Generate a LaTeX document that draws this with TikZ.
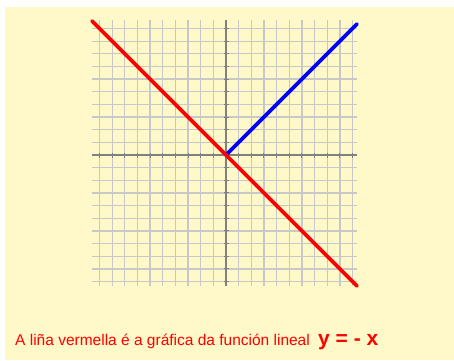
\documentclass[tikz,border=0pt]{standalone}
\usepackage{fontspec}
\setmainfont{Liberation Sans}
\definecolor{paper}{HTML}{FFF8C8}
\definecolor{gridgray}{HTML}{C8C8C8}
\definecolor{axisgray}{HTML}{808080}
\definecolor{plotred}{HTML}{FF0000}
\definecolor{plotblue}{HTML}{0000FF}
\begin{document}
\begin{tikzpicture}[x=1pt,y=-1pt,
  gridline/.style={draw=gridgray,line width=1.3pt},
  axisline/.style={draw=axisgray,line width=1.3pt},
  tickmark/.style={draw=axisgray,line width=1pt},
  graphline/.style={line width=3.6pt,line cap=round},
  caption/.style={inner sep=0pt,text=plotred}]
\useasboundingbox (0,0) rectangle (454,360);
\fill[white] (0,0) rectangle (454,360);
\fill[paper] (5,7) rectangle (454,360);
% grid
\def\u{12.65}
\foreach \k in {-10,...,10}{
  \draw[gridline] ({226+\k*\u},20) -- ({226+\k*\u},286);
  \draw[gridline] (92,{155+\k*\u}) -- (357,{155+\k*\u});
}
% axes
\draw[axisline] (92,155) -- (357,155);
\draw[axisline] (226,20) -- (226,286);
\foreach \k in {-10,...,10}{
  \draw[tickmark] ({226+\k*\u},152.5) -- ({226+\k*\u},157.5);
  \draw[tickmark] (223.5,{155+\k*\u}) -- (228.5,{155+\k*\u});
}
% graphs
\coordinate (O) at (226,155);
\coordinate (redA) at (92,21);
\coordinate (redB) at (357,286);
\coordinate (blueB) at (357,24);
\draw[graphline,plotblue] (O) -- (blueB);
\draw[graphline,plotred] (redA) -- (redB);
% caption
\node[caption,anchor=base west] (cap) at (15,345)
  {\fontsize{15.5}{18}\selectfont A liña vermella é a gráfica da función lineal};
\node[caption,anchor=base west] (eq) at (318,345)
  {\fontsize{21}{24}\selectfont\bfseries y = - x};
\end{tikzpicture}
\end{document}
